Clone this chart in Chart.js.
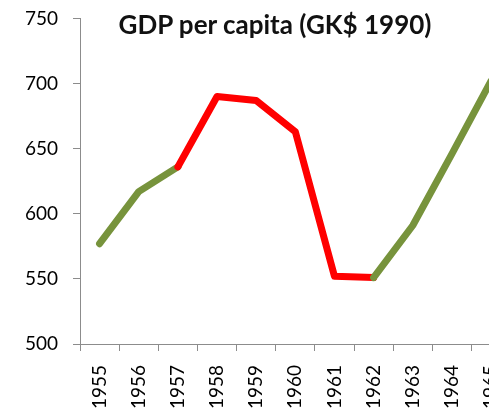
<!DOCTYPE html>
<html>
<head>
<meta charset="utf-8">
<script src="https://cdn.jsdelivr.net/npm/chart.js@4"></script>
<style>
  html, body { margin: 0; padding: 0; background: #fff; overflow: hidden; }
  #wrap { position: relative; top: -8px; width: 528px; height: 425px; }
  #title {
    position: absolute; left: 0; width: 550px; top: 16px;
    text-align: center; font-family: "Lato", sans-serif; font-weight: bold;
    font-size: 26px; color: #111;
  }
</style>
</head>
<body>
<div id="wrap">
  <canvas id="chart"></canvas>
  <div id="title">GDP per capita (GK$ 1990)</div>
</div>
<script>
const years = ["1955", "1956", "1957", "1958", "1959", "1960", "1961", "1962", "1963", "1964", "1965"];
const gdp = [577, 617, 636, 690, 687, 663, 552, 551, 591, 646, 702];
const yTicks = [500, 550, 600, 650, 700, 750];

// the decline years 1957 -> 1962 are drawn in red
const redFrom = 2;
const redTo = 7;

const green = "#77933C";
const red = "#FF0000";
const axisGrey = "#8C8C8C";

const ctx = document.getElementById("chart").getContext("2d");
const chart = new Chart(ctx, {
  type: "line",
  data: {
    labels: years,
    datasets: [
      {
        data: gdp,
        borderColor: green,
        borderWidth: 7,
        borderCapStyle: "round",
        borderJoinStyle: "round",
        pointRadius: 0,
        tension: 0,
        segment: {
          borderColor: (c) => (c.p0DataIndex >= redFrom && c.p0DataIndex < redTo ? red : green),
        },
      },
    ],
  },
  options: {
    responsive: true,
    maintainAspectRatio: false,
    animation: false,
    layout: { padding: { top: 9, right: 3, left: 0, bottom: 0 } },
    plugins: { legend: { display: false }, tooltip: { enabled: false } },
    scales: {
      x: {
        offset: true,
        grid: { offset: true, drawOnChartArea: false, drawTicks: true, tickLength: 7, color: axisGrey },
        border: { color: axisGrey },
        ticks: {
          minRotation: 90,
          maxRotation: 90,
          padding: 14,
          color: "#000",
          font: { family: "Lato", size: 19 },
        },
        afterFit: (scale) => { scale.height = 73; },
      },
      y: {
        min: 500,
        max: 750,
        afterBuildTicks: (scale) => { scale.ticks = yTicks.map((v) => ({ value: v })); },
        grid: { drawOnChartArea: false, drawTicks: true, tickLength: 7, color: axisGrey },
        border: { color: axisGrey },
        ticks: {
          padding: 15,
          color: "#000",
          font: { family: "Lato", size: 19 },
        },
        afterFit: (scale) => { scale.width = 80; },
      },
    },
  },
});
</script>
</body>
</html>
